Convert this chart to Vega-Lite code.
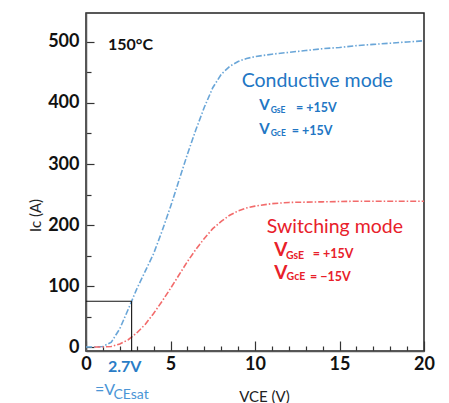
{
  "$schema": "https://vega.github.io/schema/vega-lite/v6.json",
  "width": 338,
  "height": 338,
  "autosize": "none",
  "padding": {"left": 86, "top": 13, "right": 25, "bottom": 52},
  "config": {
    "font": "Lato",
    "view": {"stroke": "#222", "strokeWidth": 1.5}
  },
  "datasets": {
    "curves": [
      {"series": "conductive", "vce": 0, "ic": 0},
      {"series": "conductive", "vce": 0.5, "ic": 0},
      {"series": "conductive", "vce": 1.0, "ic": 1},
      {"series": "conductive", "vce": 1.5, "ic": 8},
      {"series": "conductive", "vce": 2.0, "ic": 30},
      {"series": "conductive", "vce": 2.5, "ic": 62},
      {"series": "conductive", "vce": 2.7, "ic": 75},
      {"series": "conductive", "vce": 3.0, "ic": 95},
      {"series": "conductive", "vce": 3.5, "ic": 124},
      {"series": "conductive", "vce": 4.0, "ic": 153},
      {"series": "conductive", "vce": 4.5, "ic": 190},
      {"series": "conductive", "vce": 5.0, "ic": 230},
      {"series": "conductive", "vce": 5.5, "ic": 273},
      {"series": "conductive", "vce": 6.0, "ic": 316},
      {"series": "conductive", "vce": 6.5, "ic": 356},
      {"series": "conductive", "vce": 7.0, "ic": 393},
      {"series": "conductive", "vce": 7.5, "ic": 425},
      {"series": "conductive", "vce": 8.0, "ic": 447},
      {"series": "conductive", "vce": 8.5, "ic": 460},
      {"series": "conductive", "vce": 9.0, "ic": 468},
      {"series": "conductive", "vce": 9.5, "ic": 473},
      {"series": "conductive", "vce": 10, "ic": 476},
      {"series": "conductive", "vce": 11, "ic": 480},
      {"series": "conductive", "vce": 12, "ic": 483},
      {"series": "conductive", "vce": 13, "ic": 486},
      {"series": "conductive", "vce": 14, "ic": 489},
      {"series": "conductive", "vce": 15, "ic": 491},
      {"series": "conductive", "vce": 16, "ic": 494},
      {"series": "conductive", "vce": 17, "ic": 496},
      {"series": "conductive", "vce": 18, "ic": 498},
      {"series": "conductive", "vce": 19, "ic": 500},
      {"series": "conductive", "vce": 20, "ic": 502},
      {"series": "switching", "vce": 0.5, "ic": 0},
      {"series": "switching", "vce": 1.0, "ic": 0},
      {"series": "switching", "vce": 1.5, "ic": 1},
      {"series": "switching", "vce": 2.0, "ic": 5},
      {"series": "switching", "vce": 2.5, "ic": 12},
      {"series": "switching", "vce": 3.0, "ic": 23},
      {"series": "switching", "vce": 3.5, "ic": 37},
      {"series": "switching", "vce": 4.0, "ic": 55},
      {"series": "switching", "vce": 4.5, "ic": 75},
      {"series": "switching", "vce": 5.0, "ic": 96},
      {"series": "switching", "vce": 5.5, "ic": 118},
      {"series": "switching", "vce": 6.0, "ic": 140},
      {"series": "switching", "vce": 6.5, "ic": 160},
      {"series": "switching", "vce": 7.0, "ic": 178},
      {"series": "switching", "vce": 7.5, "ic": 194},
      {"series": "switching", "vce": 8.0, "ic": 206},
      {"series": "switching", "vce": 8.5, "ic": 216},
      {"series": "switching", "vce": 9.0, "ic": 223},
      {"series": "switching", "vce": 9.5, "ic": 228},
      {"series": "switching", "vce": 10, "ic": 231},
      {"series": "switching", "vce": 11, "ic": 235},
      {"series": "switching", "vce": 12, "ic": 237},
      {"series": "switching", "vce": 14, "ic": 238},
      {"series": "switching", "vce": 16, "ic": 239},
      {"series": "switching", "vce": 18, "ic": 239},
      {"series": "switching", "vce": 20, "ic": 239}
    ],
    "refs": [
      {"vce": 0, "ic": 75, "vce2": 2.7, "ic2": 75},
      {"vce": 2.7, "ic": 75, "vce2": 2.7, "ic2": -6.5}
    ],
    "labels": [
      {"role": "temp", "series": "none", "vce": 1.3, "ic": 495, "text": "150°C"},
      {"role": "mode", "series": "conductive", "vce": 9.21, "ic": 436.6, "text": "Conductive mode"},
      {"role": "V", "series": "conductive", "vce": 10.25, "ic": 397.2, "text": "V"},
      {"role": "sub", "series": "conductive", "vce": 10.93, "ic": 387.7, "text": "GsE"},
      {"role": "val", "series": "conductive", "vce": 12.43, "ic": 391.8, "text": "=  +15V"},
      {"role": "V", "series": "conductive", "vce": 10.25, "ic": 357.9, "text": "V"},
      {"role": "sub", "series": "conductive", "vce": 10.93, "ic": 350.8, "text": "GcE"},
      {"role": "val", "series": "conductive", "vce": 12.17, "ic": 353.6, "text": "=  +15V"},
      {"role": "mode", "series": "switching", "vce": 10.69, "ic": 196.2, "text": "Switching mode"},
      {"role": "V", "series": "switching", "vce": 11.14, "ic": 159, "text": "V"},
      {"role": "sub", "series": "switching", "vce": 11.83, "ic": 150, "text": "GsE"},
      {"role": "val", "series": "switching", "vce": 13.41, "ic": 152.8, "text": "=  +15V"},
      {"role": "V", "series": "switching", "vce": 11.14, "ic": 122, "text": "V"},
      {"role": "sub", "series": "switching", "vce": 11.87, "ic": 114, "text": "GcE"},
      {"role": "val", "series": "switching", "vce": 13.25, "ic": 115.2, "text": "=  −15V"},
      {"role": "sat", "series": "conductive", "vce": 2.29, "ic": -33, "text": "2.7V"},
      {"role": "eq", "series": "conductive", "vce": 0.53, "ic": -70.5, "text": "=V"},
      {"role": "eqsub", "series": "conductive", "vce": 1.62, "ic": -78, "text": "CEsat"}
    ]
  },
  "encoding": {
    "x": {
      "field": "vce",
      "type": "quantitative",
      "scale": {"domain": [0, 20], "nice": false, "zero": false},
      "axis": {
        "values": [0,1,2,3,4,5,6,7,8,9,10,11,12,13,14,15,16,17,18,19,20],
        "labelExpr": "datum.value % 5 === 0 ? datum.label : ''",
        "tickSize": {"condition": {"test": "datum.value % 5 === 0", "value": -10}, "value": -5},
        "grid": false,
        "labelFlush": false,
        "labelOverlap": false,
        "labelFont": "Lato",
        "labelFontWeight": "bold",
        "labelFontSize": 18,
        "labelColor": "#111",
        "labelPadding": 14,
        "domainColor": "#555",
        "domainWidth": 1.5,
        "tickColor": "#333",
        "tickWidth": 1.2,
        "title": "VCE (V)",
        "titleFont": "Lato",
        "titleFontSize": 15,
        "titleFontWeight": "normal",
        "titleColor": "#222",
        "titleX": 178,
        "titleY": 45,
        "titleBaseline": "middle",
        "titleAlign": "center"
      }
    },
    "y": {
      "field": "ic",
      "type": "quantitative",
      "scale": {"domain": [-6.5, 547.5], "nice": false, "zero": false},
      "axis": {
        "values": [0,50,100,150,200,250,300,350,400,450,500],
        "labelExpr": "datum.value % 100 === 0 ? datum.label : ''",
        "tickSize": {"condition": {"test": "datum.value % 100 === 0", "value": -8}, "value": -5},
        "grid": false,
        "labelFlush": false,
        "labelOverlap": false,
        "labelFont": "Lato",
        "labelFontWeight": "bold",
        "labelFontSize": 18,
        "labelColor": "#111",
        "labelPadding": 15,
        "domainColor": "#555",
        "domainWidth": 1.5,
        "tickColor": "#333",
        "tickWidth": 1.2,
        "title": "Ic (A)",
        "titleFont": "Lato",
        "titleFontSize": 15,
        "titleFontWeight": "normal",
        "titleColor": "#222",
        "titleX": -51,
        "titleY": 202,
        "titleAngle": -90,
        "titleBaseline": "middle",
        "titleAlign": "center"
      }
    }
  },
  "layer": [
    {
      "data": {"name": "curves"},
      "mark": {"type": "line", "strokeWidth": 1.6, "strokeDash": [6, 2, 1.5, 2]},
      "encoding": {
        "color": {"field": "series", "type": "nominal", "scale": {"domain": ["conductive", "switching"], "range": ["#6aa6d8", "#f26b6b"]}, "legend": null}
      }
    },
    {
      "data": {"name": "refs"},
      "mark": {"type": "rule", "color": "#111", "strokeWidth": 1.1},
      "encoding": {
        "x2": {"field": "vce2"},
        "y2": {"field": "ic2"}
      }
    },
    {
      "data": {"name": "labels"},
      "transform": [{"filter": "datum.role == 'temp'"}],
      "mark": {"type": "text", "align": "left", "baseline": "middle", "font": "Lato", "fontWeight": "bold", "fontSize": 16, "color": "#111"},
      "encoding": {"text": {"field": "text"}}
    },
    {
      "data": {"name": "labels"},
      "transform": [{"filter": "datum.role == 'mode'"}],
      "mark": {"type": "text", "align": "left", "baseline": "middle", "font": "Lato", "fontSize": 19.5},
      "encoding": {
        "text": {"field": "text"},
        "color": {"field": "series", "type": "nominal", "scale": {"domain": ["conductive", "switching"], "range": ["#2276c4", "#e8202a"]}, "legend": null}
      }
    },
    {
      "data": {"name": "labels"},
      "transform": [{"filter": "datum.role == 'V'"}],
      "mark": {"type": "text", "align": "left", "baseline": "middle", "font": "Lato", "fontWeight": "bold"},
      "encoding": {
        "text": {"field": "text"},
        "size": {"field": "series", "type": "nominal", "scale": {"domain": ["conductive", "switching"], "range": [15, 19]}, "legend": null},
        "color": {"field": "series", "type": "nominal", "scale": {"domain": ["conductive", "switching"], "range": ["#2276c4", "#e8202a"]}, "legend": null}
      }
    },
    {
      "data": {"name": "labels"},
      "transform": [{"filter": "datum.role == 'sub'"}],
      "mark": {"type": "text", "align": "left", "baseline": "middle", "font": "Lato", "fontWeight": "bold"},
      "encoding": {
        "text": {"field": "text"},
        "size": {"field": "series", "type": "nominal", "scale": {"domain": ["conductive", "switching"], "range": [8.5, 10.5]}, "legend": null},
        "color": {"field": "series", "type": "nominal", "scale": {"domain": ["conductive", "switching"], "range": ["#2276c4", "#e8202a"]}, "legend": null}
      }
    },
    {
      "data": {"name": "labels"},
      "transform": [{"filter": "datum.role == 'val'"}],
      "mark": {"type": "text", "align": "left", "baseline": "middle", "font": "Lato", "fontWeight": "bold", "fontSize": 12.5},
      "encoding": {
        "text": {"field": "text"},
        "color": {"field": "series", "type": "nominal", "scale": {"domain": ["conductive", "switching"], "range": ["#2276c4", "#e8202a"]}, "legend": null}
      }
    },
    {
      "data": {"name": "labels"},
      "transform": [{"filter": "datum.role == 'sat'"}],
      "mark": {"type": "text", "align": "center", "baseline": "middle", "font": "Lato", "fontWeight": "bold", "fontSize": 16, "color": "#2a7cc6"},
      "encoding": {"text": {"field": "text"}}
    },
    {
      "data": {"name": "labels"},
      "transform": [{"filter": "datum.role == 'eq'"}],
      "mark": {"type": "text", "align": "left", "baseline": "middle", "font": "Lato", "fontSize": 16, "color": "#4a95d6"},
      "encoding": {"text": {"field": "text"}}
    },
    {
      "data": {"name": "labels"},
      "transform": [{"filter": "datum.role == 'eqsub'"}],
      "mark": {"type": "text", "align": "left", "baseline": "middle", "font": "Lato", "fontSize": 14, "color": "#4a95d6"},
      "encoding": {"text": {"field": "text"}}
    }
  ],
  "resolve": {"scale": {"color": "independent", "size": "independent"}}
}
